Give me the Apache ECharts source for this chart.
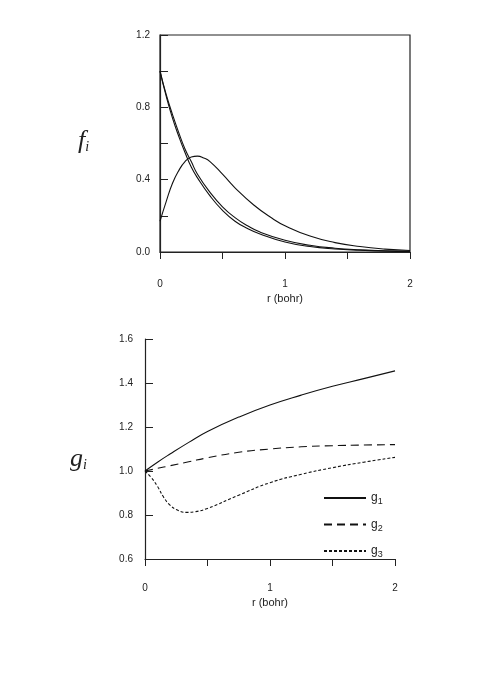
<!DOCTYPE html>
<html><head><meta charset="utf-8">
<script src="https://cdn.jsdelivr.net/npm/echarts@6/dist/echarts.min.js"></script>
<style>html,body{margin:0;background:#fff}#c{width:479px;height:688px}</style>
</head><body><div id="c"></div>
<script>
const rF = [0,0.05,0.1,0.15,0.2,0.25,0.3,0.4,0.5,0.6,0.7,0.8,1.0,1.2,1.4,1.6,1.8,2.0];
const f1 = [1.0,0.86,0.74,0.64,0.55,0.47,0.41,0.31,0.23,0.17,0.13,0.10,0.055,0.03,0.017,0.01,0.005,0.003];
const f2 = [1.0,0.87,0.76,0.66,0.57,0.50,0.43,0.33,0.25,0.19,0.145,0.11,0.065,0.037,0.021,0.012,0.007,0.004];
const rF3 = [0,0.05,0.1,0.15,0.2,0.25,0.3,0.35,0.4,0.5,0.6,0.75,0.9,1.0,1.2,1.4,1.6,1.8,2.0];
const f3 = [0.17,0.28,0.38,0.45,0.50,0.525,0.53,0.52,0.50,0.43,0.355,0.26,0.185,0.145,0.088,0.052,0.03,0.016,0.008];
const rG = [0,0.1,0.2,0.35,0.5,0.75,1,1.25,1.5,1.75,2];
const g1 = [1.0,1.04,1.077,1.13,1.18,1.245,1.30,1.345,1.385,1.42,1.455];
const g2 = [1.0,1.012,1.024,1.042,1.06,1.085,1.10,1.11,1.115,1.118,1.12];
const rG3 = [0,0.05,0.1,0.15,0.2,0.25,0.33,0.4,0.5,0.75,1,1.25,1.5,1.75,2];
const g3 = [1.0,0.97,0.93,0.88,0.845,0.825,0.812,0.815,0.83,0.89,0.947,0.985,1.015,1.04,1.062];
const zip=(a,b)=>a.map((x,i)=>[x,b[i]]);
const ax={lineStyle:{color:'#222',width:1.2}};
const lab={color:'#222',fontSize:10,fontFamily:'Liberation Sans'};
const xAxisCommon=(gi,margin)=>({type:'value',gridIndex:gi,min:0,max:2,interval:0.5,
  axisLine:ax,axisTick:{show:true,inside:false,length:7,lineStyle:{color:'#222'}},
  axisLabel:Object.assign({margin:margin,formatter:v=>Number.isInteger(v)?String(v):''},lab),
  splitLine:{show:false},name:'r (bohr)',nameLocation:'middle',nameGap:margin+14,
  nameTextStyle:{color:'#222',fontSize:11,fontFamily:'Liberation Sans'}});
const ls=(t)=>({color:'#111',width:1.1,type:t});
const chart=echarts.init(document.getElementById('c'));
chart.setOption({
  animation:false,
  grid:[{left:160,right:69,top:35,bottom:436,show:true,borderColor:'#222',borderWidth:1.2},
        {left:145,right:84,top:339,bottom:129}],
  xAxis:[xAxisCommon(0,27),xAxisCommon(1,24)],
  yAxis:[
    {type:'value',gridIndex:0,min:0,max:1.2,interval:0.2,axisLine:{show:true,lineStyle:ax.lineStyle},
     axisTick:{show:true,inside:true,length:8,lineStyle:{color:'#222'}},splitLine:{show:false},
     axisLabel:Object.assign({margin:10,formatter:v=>{const k=Math.round(v*10);return k%4===0?v.toFixed(1):'';}},lab)},
    {type:'value',gridIndex:1,min:0.6,max:1.6,interval:0.2,axisLine:{show:true,lineStyle:ax.lineStyle},
     axisTick:{show:true,inside:true,length:8,lineStyle:{color:'#222'}},splitLine:{show:false},
     axisLabel:Object.assign({margin:12,formatter:v=>v.toFixed(1)},lab)}
  ],
  legend:{left:318,top:487,orient:'vertical',itemWidth:42,itemHeight:12,itemGap:12,
    data:['g1','g2','g3'],itemStyle:{opacity:0},
    formatter:n=>'{a|g}{b|'+n.slice(1)+'}',
    textStyle:{color:'#222',rich:{a:{fontSize:12,color:'#222',fontFamily:'Liberation Sans'},b:{fontSize:9,color:'#222',verticalAlign:'bottom',padding:[8,0,0,0]}}}},
  graphic:[
    {type:'text',left:78,top:128,style:{text:'{a|f}{b|i}',rich:{a:{fontSize:26,fontFamily:'Liberation Serif',fontStyle:'italic',fill:'#222'},b:{fontSize:14,fontFamily:'Liberation Serif',fontStyle:'italic',fill:'#222',padding:[12,0,0,0]}}}},
    {type:'text',left:70,top:446,style:{text:'{a|g}{b|i}',rich:{a:{fontSize:26,fontFamily:'Liberation Serif',fontStyle:'italic',fill:'#222'},b:{fontSize:14,fontFamily:'Liberation Serif',fontStyle:'italic',fill:'#222',padding:[12,0,0,0]}}}}
  ],
  series:[
    {type:'line',xAxisIndex:0,yAxisIndex:0,smooth:0.5,symbol:'none',lineStyle:ls('solid'),data:zip(rF,f1)},
    {type:'line',xAxisIndex:0,yAxisIndex:0,smooth:0.5,symbol:'none',lineStyle:ls('solid'),data:zip(rF,f2)},
    {type:'line',xAxisIndex:0,yAxisIndex:0,smooth:0.5,symbol:'none',lineStyle:ls('solid'),data:zip(rF3,f3)},
    {name:'g1',type:'line',xAxisIndex:1,yAxisIndex:1,smooth:0.5,symbol:'none',lineStyle:ls('solid'),itemStyle:{color:'#111'},data:zip(rG,g1)},
    {name:'g2',type:'line',xAxisIndex:1,yAxisIndex:1,smooth:0.5,symbol:'none',lineStyle:ls([8,5]),itemStyle:{color:'#111'},data:zip(rG,g2)},
    {name:'g3',type:'line',xAxisIndex:1,yAxisIndex:1,smooth:0.5,symbol:'none',lineStyle:ls([3,2]),itemStyle:{color:'#111'},data:zip(rG3,g3)}
  ]
});
</script></body></html>
